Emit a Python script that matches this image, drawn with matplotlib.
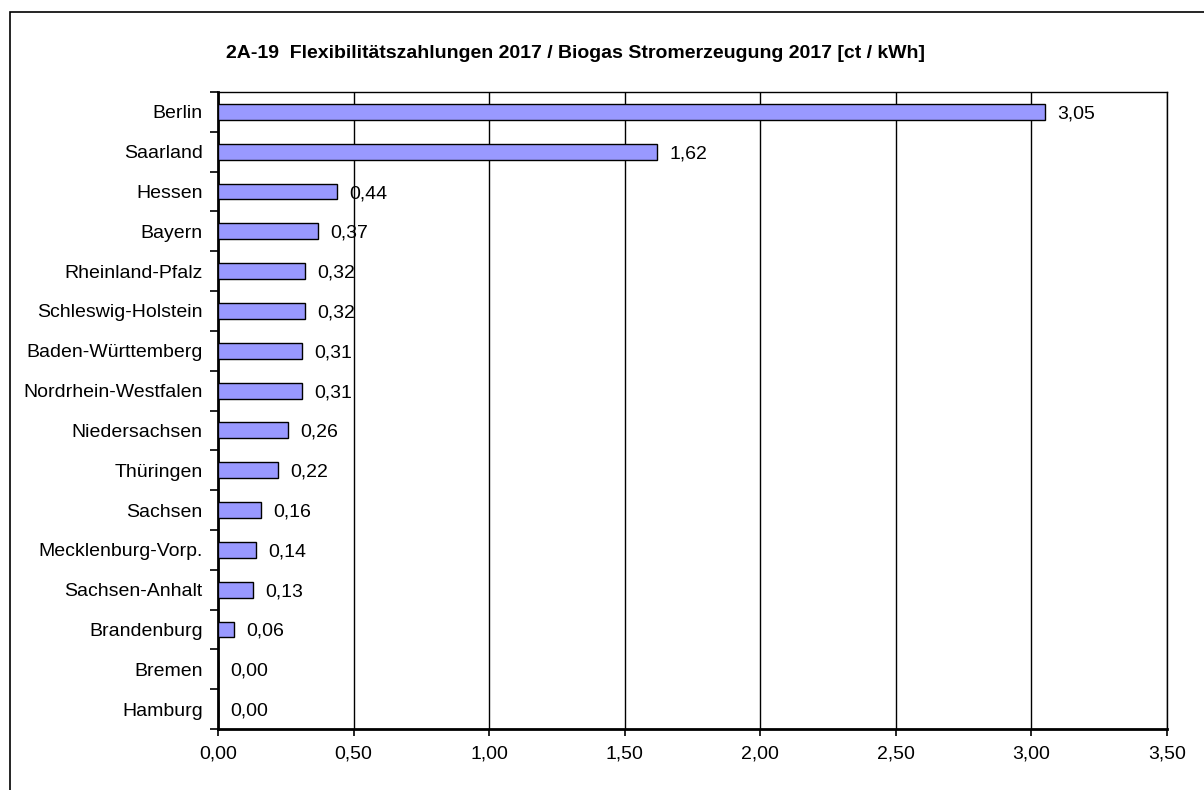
import matplotlib.pyplot as plt
import numpy as np
from matplotlib.patches import Rectangle

plt.rcParams['font.family'] = ['Liberation Sans', 'DejaVu Sans']

laender = ['Berlin', 'Saarland', 'Hessen', 'Bayern', 'Rheinland-Pfalz',
           'Schleswig-Holstein', 'Baden-Württemberg', 'Nordrhein-Westfalen',
           'Niedersachsen', 'Thüringen', 'Sachsen', 'Mecklenburg-Vorp.',
           'Sachsen-Anhalt', 'Brandenburg', 'Bremen', 'Hamburg']
werte = [3.05, 1.62, 0.44, 0.37, 0.32, 0.32, 0.31, 0.31,
         0.26, 0.22, 0.16, 0.14, 0.13, 0.06, 0.00, 0.00]
xticks = [0, 0.5, 1.0, 1.5, 2.0, 2.5, 3.0, 3.5]

fig = plt.figure(figsize=(12.04, 7.9), dpi=100)
ax = fig.add_axes([218/1204, 1-729/790, (1167-218)/1204, (729-92)/790])

# outer frame of the chart (only left/top visible)
fig.patches.append(Rectangle((10/1204, -0.1), 1.2, 1-12/790+0.1, transform=fig.transFigure,
                             fill=False, edgecolor='black', linewidth=1.2))

y = np.arange(len(laender))
ax.barh(y, werte, height=0.4, color='#9999FF', edgecolor='black', linewidth=1, zorder=3)
for yi, v in zip(y, werte):
    ax.text(v + 0.045, yi + 0.05, f'{v:.2f}'.replace('.', ','), va='center', ha='left',
            fontsize=14, zorder=4)

ax.set_xlim(0, 3.5)
ax.set_ylim(len(laender) - 0.5, -0.5)
ax.set_xticks(xticks)
ax.set_xticklabels([f'{t:.2f}'.replace('.', ',') for t in xticks], fontsize=14)
ax.set_yticks(y)
ax.set_yticklabels(laender, fontsize=14)
ax.tick_params(axis='y', length=0, pad=11)
ax.set_yticks(np.arange(len(laender) + 1) - 0.5, minor=True)
ax.tick_params(axis='y', which='minor', length=6, width=1.2, direction='out')
ax.tick_params(axis='x', length=5, width=1.2, direction='out', pad=7)
ax.grid(axis='x', color='black', linewidth=1, zorder=0)

for s in ['left', 'bottom']:
    ax.spines[s].set_linewidth(2)
for s in ['top', 'right']:
    ax.spines[s].set_linewidth(1)

fig.text(575/1204, 1-54/790,
         '2A-19  Flexibilitätszahlungen 2017 / Biogas Stromerzeugung 2017 [ct / kWh]',
         ha='center', va='center', fontsize=14, fontweight='bold')

fig.savefig('out.png', dpi=100)
